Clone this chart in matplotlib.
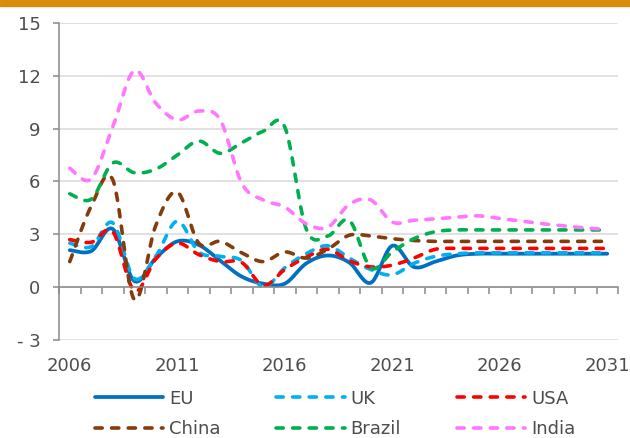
"""
Inflation outlook 2006-2031: EU, UK, USA, China, Brazil, India (smoothed lines).
"""

import matplotlib
matplotlib.use("Agg")
import matplotlib.pyplot as plt
import numpy as np
from matplotlib.patches import Rectangle
from matplotlib.ticker import FixedLocator

years = list(range(2006, 2032))

eu = [2.1, 2.05, 3.3, 0.35, 1.65, 2.6, 2.4, 1.5, 0.6, 0.2, 0.2, 1.35, 1.8, 1.4,
      0.25, 2.35, 1.15, 1.45, 1.8, 1.9, 1.9, 1.9, 1.9, 1.9, 1.9, 1.9]
uk = [2.5, 2.3, 3.65, 0.5, 1.75, 3.75, 2.0, 1.75, 1.5, 0.0, 1.1, 1.9, 2.35, 1.65,
      1.0, 0.7, 1.35, 1.75, 1.9, 1.95, 1.95, 1.95, 1.95, 1.95, 1.95, 1.95]
usa = [2.7, 2.55, 3.15, -0.2, 1.6, 2.5, 1.85, 1.45, 1.4, 0.1, 1.0, 1.7, 2.15, 1.5,
       1.15, 1.25, 1.65, 2.15, 2.2, 2.2, 2.2, 2.2, 2.2, 2.2, 2.2, 2.2]
china = [1.45, 4.6, 6.1, -0.7, 3.5, 5.4, 2.5, 2.6, 1.95, 1.45, 2.0, 1.65, 2.15, 2.95,
         2.9, 2.75, 2.65, 2.6, 2.6, 2.6, 2.6, 2.6, 2.6, 2.6, 2.6, 2.6]
brazil = [5.3, 5.0, 7.05, 6.5, 6.7, 7.5, 8.3, 7.6, 8.2, 8.85, 9.1, 3.3, 2.9, 3.8,
          1.1, 2.0, 2.75, 3.15, 3.25, 3.25, 3.25, 3.25, 3.25, 3.25, 3.25, 3.25]
india = [6.75, 6.15, 9.1, 12.3, 10.45, 9.5, 10.0, 9.5, 5.9, 4.95, 4.55, 3.6, 3.4, 4.7,
         4.95, 3.7, 3.8, 3.88, 3.97, 4.05, 3.9, 3.75, 3.6, 3.48, 3.36, 3.28]

series_names = ["EU", "UK", "USA", "China", "Brazil", "India"]
series_values = [eu, uk, usa, china, brazil, india]
series_colors = ["#0070C0", "#00B0F0", "#FF0000", "#843C0C", "#00B050", "#FF77FF"]

y_ticks = [-3, 0, 3, 6, 9, 12, 15]
y_tick_labels = ["- 3", "0", "3", "6", "9", "12", "15"]
x_label_years = [2006, 2011, 2016, 2021, 2026, 2031]


def smooth_line(x, y, steps=24):
    """Excel-style smoothed line: cubic Bezier through every point."""
    x = np.asarray(x, dtype=float)
    y = np.asarray(y, dtype=float)
    px = np.concatenate([[x[0]], x, [x[-1]]])
    py = np.concatenate([[y[0]], y, [y[-1]]])
    t = np.linspace(0, 1, steps, endpoint=False)
    xs, ys = [], []
    for i in range(1, len(px) - 2):
        p0, p1, p2, p3 = (np.array([px[j], py[j]]) for j in (i - 1, i, i + 1, i + 2))
        c1 = p1 + (p2 - p0) / 6
        c2 = p2 - (p3 - p1) / 6
        pts = ((1 - t) ** 3)[:, None] * p1 + (3 * (1 - t) ** 2 * t)[:, None] * c1 \
            + (3 * (1 - t) * t ** 2)[:, None] * c2 + (t ** 3)[:, None] * p2
        xs.append(pts[:, 0])
        ys.append(pts[:, 1])
    xs.append([x[-1]])
    ys.append([y[-1]])
    return np.concatenate(xs), np.concatenate(ys)


plt.rcParams["font.family"] = ["DejaVu Sans"]

fig = plt.figure(figsize=(6.3, 4.38), dpi=100)
fig.patches.append(Rectangle((0, 1 - 5.7 / 438), 1, 5.7 / 438, transform=fig.transFigure,
                             color="#D98C0A", zorder=0))

ax = fig.add_axes([59 / 630, 98 / 438, 559 / 630, 317 / 438])

lines = {}
for name, vals, color in zip(series_names, series_values, series_colors):
    sx, sy = smooth_line(years, vals)
    if name == "EU":
        ln, = ax.plot(sx, sy, color=color, lw=2.7, solid_capstyle="round", label=name)
    else:
        ln, = ax.plot(sx, sy, color=color, lw=2.6, linestyle=(0, (2.0, 2.6)),
                      dash_capstyle="round", label=name)
    lines[name] = ln

ax.set_xlim(years[0] - 0.5, years[-1] + 0.5)
ax.set_ylim(-3, 15)

ax.set_yticks(y_ticks)
ax.set_yticklabels(y_tick_labels)
ax.yaxis.grid(True, color="#D9D9D9", lw=1.1)
ax.set_axisbelow(True)

ax.xaxis.set_major_locator(FixedLocator(x_label_years))
ax.set_xticklabels([str(y) for y in x_label_years])
ax.xaxis.set_minor_locator(FixedLocator(np.arange(years[0] - 0.5, years[-1] + 1.0, 1.0)))
ax.tick_params(axis="x", which="major", length=0, pad=50, labelsize=13, labelcolor="#4D4D4D")
ax.tick_params(axis="x", which="minor", length=4.8, width=1.1, color="#898989", direction="out")
ax.tick_params(axis="y", length=4.3, width=1.1, color="#898989", pad=9, labelsize=13,
               labelcolor="#4D4D4D")

for side in ("top", "right"):
    ax.spines[side].set_visible(False)
ax.spines["bottom"].set_position(("data", 0))
ax.spines["bottom"].set_color("#898989")
ax.spines["bottom"].set_linewidth(1.1)
ax.spines["left"].set_color("#898989")
ax.spines["left"].set_linewidth(1.1)

order = ["EU", "China", "UK", "Brazil", "USA", "India"]
fig.legend([lines[n] for n in order], order, ncol=3, loc="center",
           bbox_to_anchor=(335 / 630, 1 - 414 / 438), frameon=False, fontsize=13,
           handlelength=3.8, handletextpad=0.3, columnspacing=3.1, labelspacing=0.72,
           borderpad=0, labelcolor="#4D4D4D")

fig.savefig("out.png", dpi=100)
